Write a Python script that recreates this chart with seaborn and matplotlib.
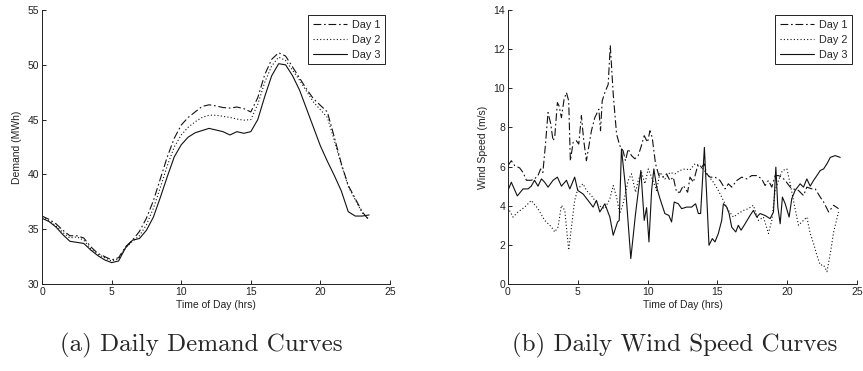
import numpy as np
import pandas as pd
import matplotlib
matplotlib.use("Agg")
import matplotlib.pyplot as plt
import seaborn as sns

sns.set_theme(style="ticks")
plt.rcParams["font.family"] = ["Liberation Sans", "DejaVu Sans"]

## DATA
# demand, half-hourly
demand_t = np.arange(0, 24, 0.5)
demand_day1 = [36.2, 35.9, 35.5, 34.9, 34.4, 34.4, 34.2, 33.4, 32.8, 32.5, 32.2, 32.4,
               33.4, 34.0, 34.8, 36.0, 37.6, 39.6, 41.6, 43.3, 44.5, 45.2, 45.7, 46.2,
               46.35, 46.25, 46.1, 46.05, 46.15, 46.0, 45.7, 47.0, 49.1, 50.5, 51.1, 50.8,
               49.8, 48.8, 47.8, 46.9, 46.3, 45.7, 43.4, 41.0, 39.0, 37.8, 36.6, 35.8]
demand_day2 = [36.1, 35.8, 35.3, 34.7, 34.2, 34.3, 34.0, 33.2, 32.7, 32.4, 32.1, 32.3,
               33.3, 33.9, 34.4, 35.4, 36.9, 38.8, 40.8, 42.5, 43.6, 44.3, 44.8, 45.2,
               45.4, 45.4, 45.3, 45.2, 45.05, 44.95, 45.0, 46.4, 48.4, 49.9, 50.7, 50.4,
               49.5, 48.6, 47.6, 46.6, 45.9, 45.2, 43.1, 40.9, 38.9, 37.7, 36.5, 35.9]
demand_day3 = [36.0, 35.7, 35.2, 34.5, 33.9, 33.8, 33.7, 33.1, 32.6, 32.2, 31.95, 32.1,
               33.3, 34.0, 34.15, 34.9, 36.1, 37.9, 39.8, 41.6, 42.7, 43.4, 43.8, 44.0,
               44.2, 44.05, 43.9, 43.6, 43.9, 43.75, 43.9, 45.0, 47.1, 49.0, 50.1, 50.0,
               49.0, 47.7, 46.0, 44.3, 42.6, 41.2, 39.9, 38.5, 36.6, 36.2, 36.2, 36.3]

# wind speed
wind_t1 = [0, 0.24, 0.48, 0.84, 1.08, 1.32, 1.67, 1.9, 2.15, 2.34, 2.5, 2.67, 2.87, 3.06,
           3.23, 3.35, 3.54, 3.66, 3.83, 4.02, 4.19, 4.35, 4.47, 4.67, 4.9, 5.07, 5.26,
           5.43, 5.62, 5.98, 6.22, 6.51, 6.63, 6.75, 6.94, 7.18, 7.33, 7.54, 7.78, 8.01,
           8.25, 8.42, 8.61, 8.85, 9.09, 9.33, 9.52, 9.76, 10.0, 10.17, 10.33, 10.57,
           10.81, 11.12, 11.36, 11.6, 11.84, 12.08, 12.32, 12.56, 12.87, 13.04, 13.28,
           13.59, 13.83, 14.07, 14.23, 14.47, 14.83, 15.19, 15.55, 15.79, 16.03, 16.39,
           16.75, 17.11, 17.46, 17.82, 18.18, 18.42, 18.66, 18.9, 19.14, 19.38, 19.62,
           19.86, 20.22, 20.45, 20.81, 21.17, 21.41, 21.77, 22.01, 22.37, 22.61, 22.97,
           23.33, 23.68]
wind_v1 = [6.05, 6.3, 6.05, 5.93, 5.7, 5.3, 5.3, 5.37, 5.54, 5.88, 5.7, 7.0, 8.76, 8.2,
           7.32, 7.5, 9.27, 9.1, 8.5, 9.44, 9.78, 9.36, 6.3, 7.24, 7.32, 7.15, 8.6,
           7.32, 6.3, 7.83, 8.5, 8.93, 7.83, 9.36, 9.78, 10.2, 12.2, 9.7, 7.66, 7.07,
           6.8, 6.3, 6.9, 6.56, 6.4, 6.56, 6.98, 7.58, 7.24, 7.83, 7.5, 6.14,
           5.54, 5.46, 5.63, 5.29, 5.46, 4.69, 4.69, 5.03, 4.69, 5.46, 5.2,
           6.05, 5.93, 6.14, 5.63, 5.46, 5.46, 5.29, 4.86, 5.12, 4.95, 5.29,
           5.46, 5.37, 5.54, 5.54, 5.37, 5.03, 5.29, 4.95, 5.54, 5.54, 5.46,
           5.29, 4.95, 4.86, 4.78, 4.52, 4.95, 4.86, 4.86, 4.44, 4.19, 3.68,
           4.02, 3.85]
wind_t2 = [0, 0.36, 0.72, 1.2, 1.67, 2.15, 2.63, 3.11, 3.35, 3.59, 3.83, 4.07, 4.35, 4.55,
           4.78, 5.0, 5.38, 5.62, 5.98, 6.46, 6.94, 7.3, 7.54, 7.78, 8.01, 8.25, 8.61,
           8.85, 9.14, 9.33, 9.57, 9.81, 10.05, 10.29, 10.65, 10.89, 11.24, 11.6, 11.96,
           12.32, 12.68, 13.04, 13.4, 13.76, 14.07, 14.35, 14.71, 15.07, 15.43, 15.79,
           16.15, 16.5, 16.87, 17.22, 17.58, 17.94, 18.3, 18.66, 18.9, 19.14, 19.38,
           19.66, 19.98, 20.22, 20.45, 20.81, 21.17, 21.41, 21.65, 21.89, 22.13, 22.37,
           22.61, 22.85, 23.09, 23.33, 23.68]
wind_v2 = [3.9, 3.42, 3.68, 3.93, 4.27, 3.85, 3.25, 2.92, 2.66, 2.92, 4.02, 3.76, 1.73, 2.92,
           4.27, 4.86, 5.12, 4.78, 4.52, 4.02, 3.85, 4.36, 5.03, 4.44, 3.6, 4.1, 5.29,
           5.63, 4.69, 5.29, 5.7, 5.12, 5.88, 5.46, 4.78, 5.7, 5.37, 5.7, 5.63,
           5.8, 5.88, 5.83, 6.14, 6.05, 5.8, 5.54, 5.2, 4.78, 4.27, 3.76,
           3.42, 3.6, 3.76, 3.85, 4.02, 3.25, 3.42, 2.58, 3.25, 4.78, 5.29,
           5.8, 5.88, 5.12, 4.27, 3.0, 3.25, 3.42, 2.58, 2.07, 1.47, 0.97,
           0.97, 0.63, 1.56, 2.66, 3.68]
wind_t3 = [0, 0.24, 0.67, 1.08, 1.44, 1.67, 1.9, 2.15, 2.4, 2.63, 2.87, 3.23, 3.54, 3.83,
           4.19, 4.43, 4.78, 5.0, 5.38, 5.74, 6.1, 6.34, 6.58, 6.94, 7.3, 7.54, 7.85,
           7.97, 8.13, 8.42, 8.8, 9.14, 9.52, 9.76, 9.93, 10.1, 10.29, 10.45, 10.65,
           10.89, 11.24, 11.53, 11.72, 11.91, 12.2, 12.44, 12.8, 13.16, 13.44, 13.64,
           13.8, 14.07, 14.23, 14.4, 14.64, 14.83, 15.07, 15.31, 15.43, 15.67, 15.84,
           16.03, 16.32, 16.5, 16.7, 16.99, 17.34, 17.58, 17.82, 18.06, 18.42, 18.78,
           19.02, 19.19, 19.33, 19.5, 19.66, 19.86, 20.14, 20.33, 20.57, 20.93, 21.17,
           21.41, 21.65, 21.89, 22.13, 22.37, 22.61, 22.85, 23.09, 23.44, 23.8]
wind_v3 = [4.78, 5.2, 4.5, 4.86, 4.86, 5.0, 5.3, 5.0, 5.37, 5.2, 4.95, 5.3, 5.46, 5.0,
           5.3, 4.86, 5.46, 4.78, 4.6, 4.27, 3.93, 4.27, 3.68, 4.1, 3.42, 2.49, 3.17,
           3.25, 6.9, 4.95, 1.3, 3.6, 5.8, 3.25, 3.9, 2.15, 4.78, 5.88, 4.95,
           4.36, 3.6, 3.5, 3.17, 4.19, 4.1, 3.85, 3.93, 3.93, 4.1, 3.6,
           3.6, 6.98, 4.6, 1.98, 2.32, 2.15, 2.58, 3.25, 4.1, 3.93, 3.6,
           2.9, 2.66, 3.0, 2.75, 3.08, 3.5, 3.76, 3.42, 3.6, 3.5, 3.34,
           3.68, 5.97, 3.93, 3.08, 4.44, 4.1, 3.42, 4.36, 4.78, 5.12, 4.95,
           5.37, 5.0, 5.29, 5.54, 5.8, 5.88, 6.14, 6.47, 6.56, 6.47]

days = ["Day 1", "Day 2", "Day 3"]

demand = pd.DataFrame({
    "t": np.concatenate([demand_t] * 3),
    "value": demand_day1 + demand_day2 + demand_day3,
    "day": np.repeat(days, len(demand_t)),
})
wind = pd.DataFrame({
    "t": wind_t1 + wind_t2 + wind_t3,
    "value": wind_v1 + wind_v2 + wind_v3,
    "day": ["Day 1"] * len(wind_t1) + ["Day 2"] * len(wind_t2) + ["Day 3"] * len(wind_t3),
})

dashes = {"Day 1": (7, 2.5, 1.5, 2.5), "Day 2": (1, 2), "Day 3": ""}

fig = plt.figure(figsize=(8.63, 3.71), dpi=100)
ax1 = fig.add_axes([0.0487, 0.2345, 0.4032, 0.7385])
ax2 = fig.add_axes([0.5886, 0.2345, 0.4044, 0.7385])

panels = [
    (ax1, demand, "Demand (MWh)", (30, 55), range(30, 56, 5)),
    (ax2, wind, "Wind Speed (m/s)", (0, 14), range(0, 15, 2)),
]
for ax, data, ylabel, ylim, yticks in panels:
    sns.lineplot(data=data, x="t", y="value", style="day", dashes=dashes,
                 color="#111111", lw=0.8, sort=False, estimator=None, ax=ax)
    ax.set_xlim(0, 25)
    ax.set_ylim(*ylim)
    ax.set_xticks(range(0, 26, 5))
    ax.set_yticks(list(yticks))
    ax.set_xlabel("Time of Day (hrs)", fontsize=7.5, labelpad=2.5, color="#222222")
    ax.set_ylabel(ylabel, fontsize=7.5, labelpad=4, color="#222222")
    ax.tick_params(direction="in", length=3, width=0.7, labelsize=7.5,
                   colors="#222222", pad=2)
    for side in ["top", "right"]:
        ax.spines[side].set_visible(False)
    for side in ["left", "bottom"]:
        ax.spines[side].set_linewidth(0.7)
        ax.spines[side].set_color("#222222")
    ax.grid(False)
    leg = ax.legend(loc="upper right", fontsize=7.8, frameon=True, fancybox=False,
                    edgecolor="#222222", framealpha=1, handlelength=3.2,
                    borderaxespad=0.45, labelspacing=0.45, handletextpad=0.4,
                    borderpad=0.45, title=None)
    leg.get_frame().set_linewidth(0.7)

fig.text(0.233, 0.068, "(a) Daily Demand Curves", family="cmr10", fontsize=18,
         ha="center", va="center")
fig.text(0.782, 0.068, "(b) Daily Wind Speed Curves", family="cmr10", fontsize=18,
         ha="center", va="center")

fig.savefig("out.png", dpi=100)
